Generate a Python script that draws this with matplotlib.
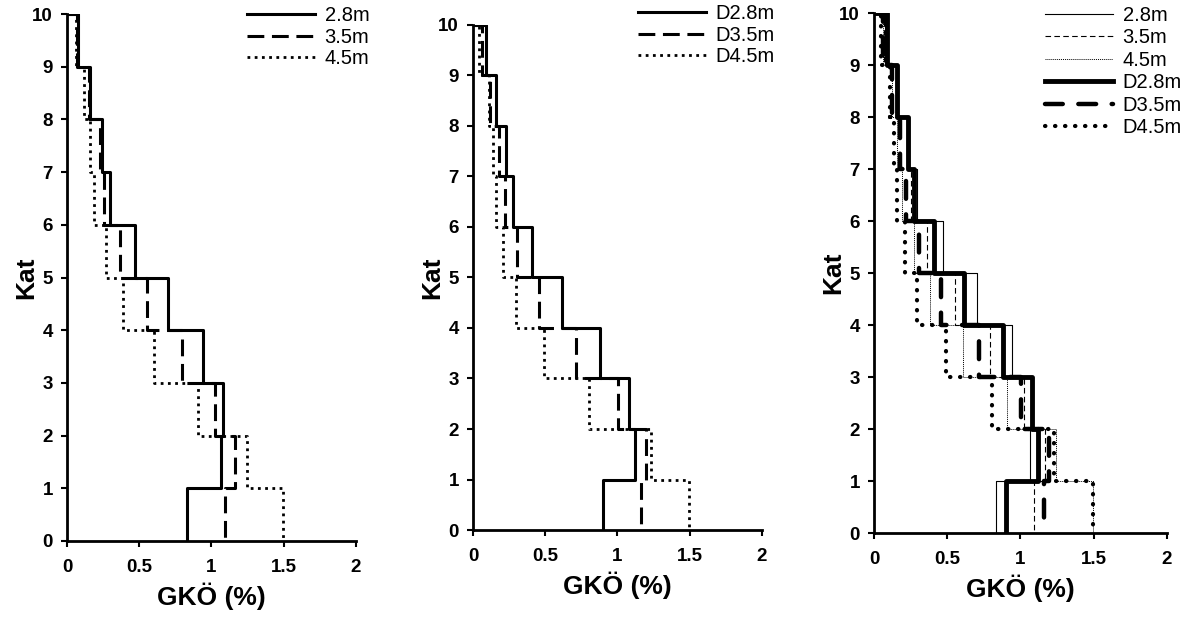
import numpy as np
import matplotlib
matplotlib.use('Agg')
import matplotlib.pyplot as plt

plt.rcParams['font.family'] = ['Liberation Sans', 'DejaVu Sans']

# story drift ratio (%) per storey, storey 1 .. 10
stories = np.arange(1, 11)
s28 = [0.83, 1.065, 1.08, 0.94, 0.70, 0.47, 0.295, 0.24, 0.16, 0.075]
s35 = [1.095, 1.165, 1.025, 0.795, 0.555, 0.365, 0.255, 0.23, 0.155, 0.07]
s45 = [1.495, 1.245, 0.91, 0.605, 0.385, 0.27, 0.19, 0.16, 0.12, 0.065]
d28 = [0.90, 1.12, 1.08, 0.88, 0.615, 0.41, 0.275, 0.23, 0.16, 0.09]
d35 = [1.16, 1.195, 1.005, 0.715, 0.46, 0.305, 0.22, 0.18, 0.12, 0.065]
d45 = [1.495, 1.23, 0.805, 0.49, 0.295, 0.21, 0.16, 0.14, 0.11, 0.045]

x_ticks = [0, 0.5, 1, 1.5, 2]
x_tick_labels = ['0', '0.5', '1', '1.5', '2']
y_ticks = np.arange(0, 11)


def storey_path(vals):
    # staircase: top floor down to the base
    v = np.asarray(vals)[::-1]
    top = stories[::-1]
    xs = np.concatenate([[0], np.repeat(v, 2)])
    ys = np.concatenate([[top[0]], np.column_stack([top, top - 1]).ravel()])
    return xs, ys


def style_axes(ax):
    ax.set_xlim(0, 2)
    ax.set_ylim(0, 10)
    ax.set_xticks(x_ticks)
    ax.set_xticklabels(x_tick_labels)
    ax.set_yticks(y_ticks)
    for s in ['top', 'right']:
        ax.spines[s].set_visible(False)
    for s in ['left', 'bottom']:
        ax.spines[s].set_linewidth(2)
    ax.tick_params(width=1.5, length=4, labelsize=13.5)
    ax.tick_params(axis='x', pad=9)
    ax.tick_params(axis='y', pad=6)
    for lab in ax.get_xticklabels() + ax.get_yticklabels():
        lab.set_fontweight('bold')
    ax.set_xlabel('GKÖ (%)', fontsize=19, fontweight='bold', labelpad=5)
    ax.set_ylabel('Kat', fontsize=19, fontweight='bold', labelpad=-4)


fig = plt.figure(figsize=(12.02, 6.17), dpi=100)
ax1 = fig.add_axes([0.0557, 0.1232, 0.2404, 0.854])
ax2 = fig.add_axes([0.3935, 0.141, 0.2404, 0.8185])
ax3 = fig.add_axes([0.7271, 0.1361, 0.2438, 0.8428])

solid = dict(color='black', lw=2.2)
dash = dict(color='black', lw=2.2, ls=(0, (5.5, 2.5)))
dot = dict(color='black', lw=2.0, ls=(0, (1, 1.6)))

leg_kw = dict(bbox_transform=fig.transFigure, loc='upper left', frameon=False, fontsize=14.5,
              handlelength=3.4, handletextpad=0.45, borderpad=0, borderaxespad=0)

for ax, data, labels in [(ax1, [s28, s35, s45], ['2.8m', '3.5m', '4.5m']),
                         (ax2, [d28, d35, d45], ['D2.8m', 'D3.5m', 'D4.5m'])]:
    for vals, st, lab in zip(data, [solid, dash, dot], labels):
        xs, ys = storey_path(vals)
        ax.plot(xs, ys, label=lab, **st)
    style_axes(ax)

ax1.legend(bbox_to_anchor=(247 / 1202, 1 - 6 / 617), labelspacing=0.13, **leg_kw)
ax2.legend(bbox_to_anchor=(638 / 1202, 1 - 4 / 617), labelspacing=0.13, **leg_kw)

# combined panel
styles3 = [
    dict(color='black', lw=0.8),
    dict(color='black', lw=0.8, ls=(0, (5, 3))),
    dict(color='black', lw=0.7, ls=(0, (1, 1))),
    dict(color='black', lw=3.5),
    dict(color='black', lw=3.2, ls=(0, (4, 3.5)), dash_capstyle='round'),
    dict(color='black', lw=3.0, ls=(0, (0.1, 2.3)), dash_capstyle='round'),
]
all_data = [s28, s35, s45, d28, d35, d45]
all_labels = ['2.8m', '3.5m', '4.5m', 'D2.8m', 'D3.5m', 'D4.5m']
for vals, st, lab in zip(all_data, styles3, all_labels):
    xs, ys = storey_path(vals)
    ax3.plot(xs, ys, label=lab, **st)
style_axes(ax3)
ax3.legend(bbox_to_anchor=(1045 / 1202, 1 - 6 / 617), labelspacing=0.17, **leg_kw)

fig.savefig('out.png', dpi=100)
